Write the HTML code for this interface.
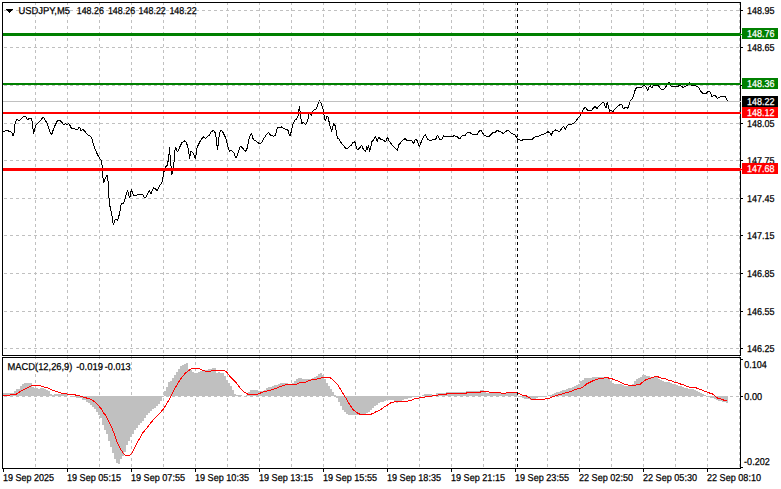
<!DOCTYPE html>
<html><head><meta charset="utf-8"><title>USDJPY,M5</title>
<style>html,body{margin:0;padding:0;background:#fff;}body{width:781px;height:489px;overflow:hidden;}svg{display:block;}text{font-family:"Liberation Sans",sans-serif;text-rendering:geometricPrecision;}</style>
</head><body>
<svg width="781" height="489" viewBox="0 0 781 489">
<rect x="0" y="0" width="781" height="489" fill="#fff"/>
<path d="M4 10.5H740 M4 47.5H740 M4 85.5H740 M4 123.5H740 M4 160.5H740 M4 198.5H740 M4 235.5H740 M4 273.5H740 M4 311.5H740 M4 348.5H740 M4 396.5H740" stroke="#c0c0c0" stroke-width="1" stroke-dasharray="3 3" fill="none" shape-rendering="crispEdges"/>
<path d="M35.5 2V355 M35.5 356V468 M67.5 2V355 M67.5 356V468 M99.5 2V355 M99.5 356V468 M131.5 2V355 M131.5 356V468 M163.5 2V355 M163.5 356V468 M195.5 2V355 M195.5 356V468 M227.5 2V355 M227.5 356V468 M259.5 2V355 M259.5 356V468 M291.5 2V355 M291.5 356V468 M323.5 2V355 M323.5 356V468 M355.5 2V355 M355.5 356V468 M387.5 2V355 M387.5 356V468 M419.5 2V355 M419.5 356V468 M451.5 2V355 M451.5 356V468 M483.5 2V355 M483.5 356V468 M515.5 2V355 M515.5 356V468 M547.5 2V355 M547.5 356V468 M579.5 2V355 M579.5 356V468 M611.5 2V355 M611.5 356V468 M643.5 2V355 M643.5 356V468 M675.5 2V355 M675.5 356V468 M707.5 2V355 M707.5 356V468 M739.5 2V355 M739.5 356V468" stroke="#c0c0c0" stroke-width="1" stroke-dasharray="3 3" fill="none" shape-rendering="crispEdges"/>
<polyline points="3.1,131.8 4.9,131.0 8.2,130.9 10.6,131.8 11.9,132.5 13.1,135.8 14.3,131.7 14.7,126.0 15.5,121.9 17.2,119.0 19.2,121.0 22.1,117.8 23.7,116.0 25.4,116.1 27.4,120.1 28.6,118.8 31.5,118.8 32.3,122.7 33.6,133.7 34.4,130.0 36.0,125.1 39.3,121.9 43.4,117.0 45.8,121.0 47.5,124.3 49.7,131.7 51.5,135.0 53.2,130.0 54.4,126.8 55.6,124.3 57.3,120.9 60.5,120.9 62.2,122.7 63.7,125.0 65.5,123.9 67.5,124.2 68.7,123.9 70.0,125.5 71.6,128.8 76.9,129.1 77.7,129.6 79.4,126.9 81.0,130.5 83.0,129.6 85.1,131.7 87.6,134.5 88.8,135.4 90.8,136.2 92.1,139.0 92.9,142.5 94.1,146.5 97.2,153.9 99.7,158.5 101.2,160.0 102.3,166.5 102.8,176.5 103.6,183.0 105.3,178.0 107.0,175.5 108.3,182.5 109.0,198.0 110.2,208.1 111.9,214.8 113.0,222.7 113.5,224.9 114.7,220.5 115.8,218.8 117.5,220.5 118.6,217.6 120.3,209.2 121.4,203.0 123.1,204.2 124.4,201.3 125.9,195.7 127.6,190.1 128.7,195.2 129.8,198.0 131.5,189.0 132.6,193.5 133.8,195.7 137.7,194.8 140.0,195.0 142.8,194.9 145.0,198.3 147.4,194.4 149.2,190.7 151.0,193.8 153.5,187.7 155.3,188.9 157.2,190.7 159.0,187.1 160.8,184.0 162.1,182.2 163.0,177.3 163.9,171.8 165.7,166.8 167.0,165.6 168.2,160.7 169.2,152.8 169.7,146.6 170.0,155.2 170.6,160.1 171.2,168.7 171.6,174.8 172.5,171.8 173.7,166.8 174.6,152.8 175.5,147.2 177.4,152.1 179.8,147.0 181.8,142.8 184.2,140.9 186.0,141.9 187.6,145.9 188.6,150.8 189.6,158.8 191.0,150.8 192.3,152.0 194.1,155.1 195.3,159.4 197.2,147.1 199.6,142.2 202.1,138.5 203.9,136.7 205.8,138.5 207.6,136.1 209.4,135.5 211.3,131.8 212.9,130.6 214.6,131.2 215.8,134.9 216.8,143.4 217.4,149.6 218.7,141.0 219.3,133.6 221.3,129.9 222.9,132.4 225.4,137.3 227.2,143.4 228.5,148.4 229.7,151.4 231.5,150.2 234.0,153.3 235.2,156.9 236.4,158.2 238.2,152.0 240.3,145.9 242.4,147.7 244.2,150.2 246.0,151.4 247.3,147.7 248.5,141.0 249.7,136.1 251.6,133.6 253.4,139.8 255.9,141.0 258.3,142.8 260.2,144.1 261.4,142.8 263.8,138.5 266.3,134.9 268.7,132.4 270.6,135.5 273.0,136.1 275.5,135.8 276.7,129.9 277.9,126.9 279.8,128.1 281.6,126.9 283.5,128.7 286.5,129.3 287.8,129.9 289.0,133.6 290.0,136.1 291.3,131.5 292.9,124.5 294.5,120.5 296.7,119.0 298.0,116.3 298.8,110.1 299.6,106.5 300.4,115.0 301.7,123.6 303.5,122.2 305.7,124.9 307.8,119.9 309.4,112.0 311.5,115.7 313.3,110.1 315.8,109.5 317.6,105.8 319.4,99.7 321.3,104.0 323.1,108.9 324.4,118.1 325.6,120.6 326.8,116.3 328.0,116.9 329.9,125.5 331.7,131.6 333.6,123.6 335.4,126.1 337.2,137.7 339.1,139.0 341.5,143.3 344.0,145.7 345.5,148.5 347.5,149.0 349.3,146.3 351.1,145.5 353.0,142.2 354.8,141.8 356.0,146.1 357.3,149.8 359.1,148.5 361.6,145.5 363.4,149.2 365.6,152.0 366.8,146.1 367.7,149.8 368.6,144.9 369.5,151.6 370.8,147.3 371.7,141.8 373.5,139.9 375.4,136.0 377.1,141.4 379.1,136.9 380.6,139.7 383.0,139.9 385.5,141.8 387.7,136.9 389.2,141.2 391.6,144.2 394.1,147.3 397.5,150.4 398.7,144.9 400.8,142.4 403.3,139.9 405.0,138.7 407.4,140.6 411.7,140.6 413.5,143.9 415.3,139.0 417.2,140.6 419.4,146.7 421.5,141.2 423.9,136.3 425.5,134.8 427.6,139.3 430.1,140.9 432.5,139.9 434.4,139.0 435.6,139.7 437.4,134.8 439.3,139.0 441.7,139.7 443.6,135.7 445.4,136.6 451.5,136.6 454.6,135.7 457.1,136.7 459.7,139.0 461.7,136.0 464.8,135.7 467.3,132.3 469.5,132.3 471.6,133.8 473.4,134.8 477.1,134.8 478.9,131.4 480.8,129.9 482.6,133.2 484.4,135.3 486.9,136.5 488.7,136.9 491.2,134.4 493.7,132.0 495.5,132.0 497.3,130.1 499.2,131.6 501.6,132.3 503.5,133.8 505.3,132.0 507.8,129.9 509.6,131.6 512.3,133.8 514.5,134.5 516.7,137.2 517.6,139.1 519.2,139.7 521.7,140.9 523.5,139.1 526.0,139.9 528.4,139.1 531.5,139.7 533.9,137.8 536.4,136.0 538.8,136.0 541.3,134.8 543.7,134.2 545.6,133.5 548.0,131.7 549.9,132.9 551.1,135.4 552.9,131.7 555.4,129.9 557.9,131.1 559.7,131.7 561.5,128.6 563.7,125.9 565.2,129.7 566.5,126.9 568.4,124.6 570.5,124.5 573.6,123.3 576.0,120.8 578.5,117.7 580.3,115.3 582.2,112.2 583.4,109.2 585.2,107.1 586.5,108.5 587.7,111.0 589.5,110.7 591.4,110.4 593.2,108.5 595.1,106.3 596.9,108.5 598.7,106.1 601.2,103.6 603.7,102.2 604.9,106.1 606.1,107.9 607.3,102.2 608.6,107.3 609.8,111.6 611.0,109.8 612.9,111.6 615.3,108.5 617.8,106.1 620.1,104.5 621.5,104.0 623.4,108.7 625.5,107.2 627.6,108.4 629.2,104.8 630.4,101.1 632.3,98.6 633.7,95.6 635.3,89.4 637.2,87.0 639.6,87.0 641.5,87.8 643.3,85.7 645.2,86.1 646.4,87.6 647.6,91.0 648.8,87.0 650.1,85.7 651.7,87.8 653.1,86.1 655.6,85.1 658.0,85.7 659.9,87.6 661.7,89.8 663.6,89.8 665.4,87.3 667.2,84.9 669.1,82.1 670.3,84.5 671.5,86.6 674.0,87.0 677.6,86.5 679.9,85.1 681.7,86.4 683.3,87.8 685.4,86.1 687.9,85.1 689.5,82.1 691.0,84.9 693.4,85.7 696.5,86.1 698.9,87.6 700.8,91.3 702.6,93.1 704.4,94.0 706.3,93.5 707.9,91.0 709.4,91.3 710.8,93.7 711.8,96.8 714.0,94.9 715.5,95.6 717.3,98.6 719.2,97.2 722.2,96.4 724.7,96.2 725.9,97.4 727.5,101.1" fill="none" stroke="#000" stroke-width="1" stroke-linejoin="bevel" shape-rendering="crispEdges"/>
<path d="M3 393h1v3h-1zM4 393h2v3h-2zM6 393h2v3h-2zM8 393h2v3h-2zM10 393h2v3h-2zM12 393h2v3h-2zM14 391h2v5h-2zM16 389h2v7h-2zM18 389h2v7h-2zM20 386h2v10h-2zM22 384h2v12h-2zM24 383h2v13h-2zM26 383h2v13h-2zM28 383h2v13h-2zM30 383h2v13h-2zM32 387h2v9h-2zM34 388h2v8h-2zM36 388h2v8h-2zM38 389h2v7h-2zM40 388h2v8h-2zM42 388h2v8h-2zM44 389h2v7h-2zM46 390h2v6h-2zM48 391h2v5h-2zM50 394h2v2h-2zM52 395h2v1h-2zM54 394h2v2h-2zM56 394h2v2h-2zM58 394h2v2h-2zM60 394h2v2h-2zM62 394h2v2h-2zM64 394h2v2h-2zM66 394h2v2h-2zM70 396h2v1h-2zM72 396h2v1h-2zM74 396h2v1h-2zM76 396h2v2h-2zM78 396h2v2h-2zM80 396h2v2h-2zM82 396h2v4h-2zM84 396h2v4h-2zM86 396h2v6h-2zM88 396h2v7h-2zM90 396h2v9h-2zM92 396h2v11h-2zM94 396h2v13h-2zM96 396h2v16h-2zM98 396h2v19h-2zM100 396h2v22h-2zM102 396h2v29h-2zM104 396h2v34h-2zM106 396h2v38h-2zM108 396h2v45h-2zM110 396h2v51h-2zM112 396h2v57h-2zM114 396h2v63h-2zM116 396h2v67h-2zM118 396h2v68h-2zM120 396h2v63h-2zM122 396h2v60h-2zM124 396h2v56h-2zM126 396h2v49h-2zM128 396h2v45h-2zM130 396h2v41h-2zM132 396h2v38h-2zM134 396h2v34h-2zM136 396h2v32h-2zM138 396h2v29h-2zM140 396h2v27h-2zM142 396h2v25h-2zM144 396h2v22h-2zM146 396h2v19h-2zM148 396h2v17h-2zM150 396h2v15h-2zM152 396h2v13h-2zM154 396h2v12h-2zM156 396h2v10h-2zM158 396h2v8h-2zM160 396h2v5h-2zM162 396h2v1h-2zM164 391h2v5h-2zM166 387h2v9h-2zM168 382h2v14h-2zM170 381h2v15h-2zM172 378h2v18h-2zM174 375h2v21h-2zM176 372h2v24h-2zM178 369h2v27h-2zM180 366h2v30h-2zM182 365h2v31h-2zM184 364h2v32h-2zM186 363h2v33h-2zM188 369h2v27h-2zM190 370h2v26h-2zM192 372h2v24h-2zM194 373h2v23h-2zM196 373h2v23h-2zM198 372h2v24h-2zM200 371h2v25h-2zM202 370h2v26h-2zM204 370h2v26h-2zM206 370h2v26h-2zM208 369h2v27h-2zM210 369h2v27h-2zM212 368h2v28h-2zM214 368h2v28h-2zM216 373h2v23h-2zM218 372h2v24h-2zM220 373h2v23h-2zM222 373h2v23h-2zM224 376h2v20h-2zM226 380h2v16h-2zM228 383h2v13h-2zM230 386h2v10h-2zM232 390h2v6h-2zM234 394h2v2h-2zM236 395h2v1h-2zM238 395h2v1h-2zM240 395h2v1h-2zM244 396h2v1h-2zM246 395h2v1h-2zM248 392h2v4h-2zM250 390h2v6h-2zM252 390h2v6h-2zM254 390h2v6h-2zM256 390h2v6h-2zM258 391h2v5h-2zM260 391h2v5h-2zM262 391h2v5h-2zM264 390h2v6h-2zM266 388h2v8h-2zM268 387h2v9h-2zM270 387h2v9h-2zM272 386h2v10h-2zM274 385h2v11h-2zM276 385h2v11h-2zM278 384h2v12h-2zM280 383h2v13h-2zM282 383h2v13h-2zM284 383h2v13h-2zM286 383h2v13h-2zM288 384h2v12h-2zM290 385h2v11h-2zM292 383h2v13h-2zM294 381h2v15h-2zM296 379h2v17h-2zM298 378h2v18h-2zM300 378h2v18h-2zM302 379h2v17h-2zM304 379h2v17h-2zM306 379h2v17h-2zM308 379h2v17h-2zM310 379h2v17h-2zM312 378h2v18h-2zM314 377h2v19h-2zM316 376h2v20h-2zM318 374h2v22h-2zM320 373h2v23h-2zM322 375h2v21h-2zM324 379h2v17h-2zM326 383h2v13h-2zM328 386h2v10h-2zM330 389h2v7h-2zM332 392h2v4h-2zM334 395h2v1h-2zM336 396h2v2h-2zM338 396h2v6h-2zM340 396h2v10h-2zM342 396h2v14h-2zM344 396h2v16h-2zM346 396h2v18h-2zM348 396h2v19h-2zM350 396h2v19h-2zM352 396h2v19h-2zM354 396h2v19h-2zM356 396h2v19h-2zM358 396h2v19h-2zM360 396h2v18h-2zM362 396h2v18h-2zM364 396h2v18h-2zM366 396h2v17h-2zM368 396h2v16h-2zM370 396h2v14h-2zM372 396h2v12h-2zM374 396h2v10h-2zM376 396h2v9h-2zM378 396h2v7h-2zM380 396h2v6h-2zM382 396h2v6h-2zM384 396h2v5h-2zM386 396h2v4h-2zM388 396h2v4h-2zM390 396h2v4h-2zM392 396h2v4h-2zM394 396h2v6h-2zM396 396h2v7h-2zM398 396h2v6h-2zM400 396h2v5h-2zM402 396h2v4h-2zM404 396h2v3h-2zM406 396h2v3h-2zM408 396h2v2h-2zM410 396h2v2h-2zM412 396h2v1h-2zM414 396h2v1h-2zM416 396h2v1h-2zM418 396h2v1h-2zM422 395h2v1h-2zM424 394h2v2h-2zM426 394h2v2h-2zM428 394h2v2h-2zM430 394h2v2h-2zM432 395h2v1h-2zM434 395h2v1h-2zM436 393h2v3h-2zM438 393h2v3h-2zM440 393h2v3h-2zM442 393h2v3h-2zM444 393h2v3h-2zM446 392h2v4h-2zM448 392h2v4h-2zM450 392h2v4h-2zM452 392h2v4h-2zM454 392h2v4h-2zM456 392h2v4h-2zM458 392h2v4h-2zM460 392h2v4h-2zM462 392h2v4h-2zM464 392h2v4h-2zM466 391h2v5h-2zM468 391h2v5h-2zM470 391h2v5h-2zM472 391h2v5h-2zM474 391h2v5h-2zM476 391h2v5h-2zM478 391h2v5h-2zM480 390h2v6h-2zM482 390h2v6h-2zM484 392h2v4h-2zM486 393h2v3h-2zM488 393h2v3h-2zM490 393h2v3h-2zM492 393h2v3h-2zM494 393h2v3h-2zM496 393h2v3h-2zM498 393h2v3h-2zM500 393h2v3h-2zM502 393h2v3h-2zM504 393h2v3h-2zM506 393h2v3h-2zM508 393h2v3h-2zM510 393h2v3h-2zM512 393h2v3h-2zM514 393h2v3h-2zM516 393h2v3h-2zM518 396h2v1h-2zM520 396h2v1h-2zM522 396h2v2h-2zM524 396h2v3h-2zM526 396h2v3h-2zM528 396h2v3h-2zM530 396h2v4h-2zM532 396h2v4h-2zM534 396h2v3h-2zM536 396h2v2h-2zM538 396h2v1h-2zM540 396h2v1h-2zM542 396h2v1h-2zM544 396h2v1h-2zM548 395h2v1h-2zM550 395h2v1h-2zM552 394h2v2h-2zM554 393h2v3h-2zM556 392h2v4h-2zM558 392h2v4h-2zM560 391h2v5h-2zM562 390h2v6h-2zM564 390h2v6h-2zM566 389h2v7h-2zM568 388h2v8h-2zM570 388h2v8h-2zM572 387h2v9h-2zM574 386h2v10h-2zM576 385h2v11h-2zM578 384h2v12h-2zM580 381h2v15h-2zM582 380h2v16h-2zM584 378h2v18h-2zM586 378h2v18h-2zM588 378h2v18h-2zM590 378h2v18h-2zM592 377h2v19h-2zM594 377h2v19h-2zM596 377h2v19h-2zM598 377h2v19h-2zM600 377h2v19h-2zM602 377h2v19h-2zM604 377h2v19h-2zM606 378h2v18h-2zM608 379h2v17h-2zM610 381h2v15h-2zM612 383h2v13h-2zM614 384h2v12h-2zM616 384h2v12h-2zM618 384h2v12h-2zM620 384h2v12h-2zM622 385h2v11h-2zM624 386h2v10h-2zM626 386h2v10h-2zM628 386h2v10h-2zM630 385h2v11h-2zM632 384h2v12h-2zM634 381h2v15h-2zM636 379h2v17h-2zM638 378h2v18h-2zM640 377h2v19h-2zM642 375h2v21h-2zM644 375h2v21h-2zM646 376h2v20h-2zM648 376h2v20h-2zM650 377h2v19h-2zM652 377h2v19h-2zM654 377h2v19h-2zM656 377h2v19h-2zM658 379h2v17h-2zM660 380h2v16h-2zM662 381h2v15h-2zM664 382h2v14h-2zM666 382h2v14h-2zM668 382h2v14h-2zM670 383h2v13h-2zM672 384h2v12h-2zM674 384h2v12h-2zM676 385h2v11h-2zM678 386h2v10h-2zM680 386h2v10h-2zM682 387h2v9h-2zM684 388h2v8h-2zM686 388h2v8h-2zM688 389h2v7h-2zM690 389h2v7h-2zM692 389h2v7h-2zM694 390h2v6h-2zM696 391h2v5h-2zM698 392h2v4h-2zM700 393h2v3h-2zM702 394h2v2h-2zM704 395h2v1h-2zM708 396h2v1h-2zM710 396h2v2h-2zM712 396h2v2h-2zM714 396h2v3h-2zM716 396h2v4h-2zM718 396h2v5h-2zM720 396h2v5h-2zM722 396h2v6h-2zM724 396h2v6h-2zM726 396h2v7h-2z" fill="#c0c0c0" shape-rendering="crispEdges"/>
<polyline points="3.1,395.9 10.2,395.0 15.3,394.8 20.4,391.5 25.6,388.9 31.7,385.8 40.4,385.8 44.0,386.9 48.0,387.9 52.1,389.9 56.2,391.5 59.9,392.8 67.3,394.0 73.4,394.6 79.5,395.8 84.4,397.4 90.6,399.2 94.3,401.4 97.9,405.0 100.0,407.4 101.6,409.3 103.9,413.2 105.3,414.9 107.7,419.7 109.0,422.2 111.6,427.4 114.8,435.1 117.4,442.8 120.6,449.3 123.8,453.8 125.7,455.7 129.6,455.7 132.8,451.8 136.0,445.4 138.6,440.2 142.5,433.2 146.3,428.7 150.2,423.5 154.1,419.0 158.8,414.3 163.2,409.3 166.4,404.2 170.2,397.8 174.0,390.2 177.8,383.2 181.6,377.5 185.5,373.1 188.6,370.6 191.8,368.7 199.4,368.7 202.6,370.2 205.8,371.4 210.8,371.2 212.0,370.7 224.3,370.7 226.9,372.3 230.4,376.9 234.5,380.9 237.6,384.5 240.7,388.6 243.7,391.7 246.3,393.4 248.9,394.8 255.0,394.8 259.1,393.7 262.1,392.2 266.2,391.2 270.1,390.2 275.2,388.6 280.3,386.6 286.5,384.5 291.6,385.0 295.7,384.5 299.8,382.8 305.9,382.0 311.0,379.9 316.1,379.4 321.2,377.9 322.5,377.8 330.4,377.8 334.7,381.5 338.4,385.7 342.1,391.9 345.8,398.0 349.4,404.2 353.1,409.7 356.8,412.7 361.1,414.8 369.1,414.8 372.8,413.6 376.4,411.5 379.1,410.8 383.2,407.7 387.3,405.2 391.9,402.1 397.5,401.9 403.6,401.6 411.3,400.5 414.4,399.0 418.0,398.2 423.1,397.5 426.1,396.8 431.2,396.8 432.5,395.8 438.2,395.0 446.0,394.7 446.4,393.9 466.0,393.9 466.4,392.8 479.9,392.8 480.3,391.9 488.9,391.9 489.1,392.8 501.0,392.8 501.8,393.9 505.4,393.9 506.3,392.8 517.3,392.8 517.7,393.7 520.6,394.1 521.4,395.0 525.1,395.1 527.5,396.8 530.0,398.0 531.6,399.2 534.9,399.6 543.9,399.6 545.0,398.8 548.2,398.6 550.6,397.8 553.9,396.2 558.0,395.1 562.1,394.0 565.3,392.9 569.4,391.8 572.7,390.8 576.0,389.2 580.1,388.4 583.3,386.8 586.6,383.9 589.9,382.3 594.0,380.2 598.1,379.0 603.2,378.7 604.0,377.8 608.1,377.8 609.3,378.7 612.6,379.0 613.8,379.8 616.7,380.2 618.7,381.4 621.2,382.7 623.2,383.9 627.3,384.3 629.3,385.8 635.1,385.8 636.3,385.0 639.6,384.7 642.4,382.3 645.7,379.8 649.8,378.2 653.1,377.8 654.5,376.9 658.2,376.9 659.4,377.8 662.3,378.2 663.5,378.7 666.4,379.0 668.0,380.1 672.1,381.0 674.5,382.3 678.6,383.1 681.1,384.3 684.3,385.1 687.6,386.6 691.7,387.7 696.6,388.0 697.4,388.8 700.7,389.2 703.1,390.8 707.3,392.0 710.0,393.2 713.5,394.3 716.9,397.8 720.8,399.0 723.8,400.1 726.9,401.1" fill="none" stroke="#ff0000" stroke-width="1" shape-rendering="crispEdges"/>
<path d="M517.5 2V355M517.5 356V468" stroke="#000" stroke-width="1" stroke-dasharray="3 3" fill="none" shape-rendering="crispEdges"/>
<path d="M2.5 2.5H740.5V355.5H2.5Z M2.5 357.5H740.5V468.5H2.5Z" stroke="#000" stroke-width="1" fill="none" shape-rendering="crispEdges"/>
<rect x="3" y="101" width="738" height="1" fill="#c0c0c0"/>
<rect x="3" y="33" width="738" height="3" fill="#008000"/><rect x="741" y="34" width="1" height="1" fill="#008000"/>
<rect x="3" y="83" width="738" height="2" fill="#008000"/>
<rect x="3" y="112" width="738" height="2" fill="#ff0000"/>
<rect x="3" y="168" width="738" height="3" fill="#ff0000"/><rect x="741" y="169" width="1" height="1" fill="#ff0000"/>
<path d="M741 10.5H743 M741 47.5H743 M741 85.5H743 M741 123.5H743 M741 160.5H743 M741 198.5H743 M741 235.5H743 M741 273.5H743 M741 311.5H743 M741 348.5H743 M741 359.5H743 M741 396.5H743 M741 467.5H743 M3.5 469V472 M67.5 469V472 M131.5 469V472 M195.5 469V472 M259.5 469V472 M323.5 469V472 M387.5 469V472 M451.5 469V472 M515.5 469V472 M579.5 469V472 M643.5 469V472 M707.5 469V472" stroke="#000" stroke-width="1" fill="none" shape-rendering="crispEdges"/>
<text transform="translate(747 14) scale(1 1.0)" font-size="10" fill="#000" stroke="#000" stroke-width="0.25" textLength="27.5" lengthAdjust="spacingAndGlyphs">148.95</text>
<text transform="translate(747 51) scale(1 1.0)" font-size="10" fill="#000" stroke="#000" stroke-width="0.25" textLength="27.5" lengthAdjust="spacingAndGlyphs">148.65</text>
<text transform="translate(747 127) scale(1 1.0)" font-size="10" fill="#000" stroke="#000" stroke-width="0.25" textLength="27.5" lengthAdjust="spacingAndGlyphs">148.05</text>
<text transform="translate(747 164) scale(1 1.0)" font-size="10" fill="#000" stroke="#000" stroke-width="0.25" textLength="27.5" lengthAdjust="spacingAndGlyphs">147.75</text>
<text transform="translate(747 202) scale(1 1.0)" font-size="10" fill="#000" stroke="#000" stroke-width="0.25" textLength="27.5" lengthAdjust="spacingAndGlyphs">147.45</text>
<text transform="translate(747 239) scale(1 1.0)" font-size="10" fill="#000" stroke="#000" stroke-width="0.25" textLength="27.5" lengthAdjust="spacingAndGlyphs">147.15</text>
<text transform="translate(747 277) scale(1 1.0)" font-size="10" fill="#000" stroke="#000" stroke-width="0.25" textLength="27.5" lengthAdjust="spacingAndGlyphs">146.85</text>
<text transform="translate(747 315) scale(1 1.0)" font-size="10" fill="#000" stroke="#000" stroke-width="0.25" textLength="27.5" lengthAdjust="spacingAndGlyphs">146.55</text>
<text transform="translate(747 352) scale(1 1.0)" font-size="10" fill="#000" stroke="#000" stroke-width="0.25" textLength="27.5" lengthAdjust="spacingAndGlyphs">146.25</text>
<rect x="742" y="28" width="36" height="11" fill="#008000"/>
<text transform="translate(747 37) scale(1 1.0)" font-size="10" fill="#fff" stroke="#fff" stroke-width="0.25" textLength="27.5" lengthAdjust="spacingAndGlyphs">148.76</text>
<rect x="742" y="78" width="36" height="11" fill="#008000"/>
<text transform="translate(747 87) scale(1 1.0)" font-size="10" fill="#fff" stroke="#fff" stroke-width="0.25" textLength="27.5" lengthAdjust="spacingAndGlyphs">148.36</text>
<rect x="742" y="96" width="36" height="11" fill="#000000"/>
<text transform="translate(747 105) scale(1 1.0)" font-size="10" fill="#fff" stroke="#fff" stroke-width="0.25" textLength="27.5" lengthAdjust="spacingAndGlyphs">148.22</text>
<rect x="742" y="107" width="36" height="11" fill="#ff0000"/>
<text transform="translate(747 116) scale(1 1.0)" font-size="10" fill="#fff" stroke="#fff" stroke-width="0.25" textLength="27.5" lengthAdjust="spacingAndGlyphs">148.12</text>
<rect x="742" y="163" width="36" height="11" fill="#ff0000"/>
<text transform="translate(747 172) scale(1 1.0)" font-size="10" fill="#fff" stroke="#fff" stroke-width="0.25" textLength="27.5" lengthAdjust="spacingAndGlyphs">147.68</text>
<path d="M6 9h7v1h-7zM7 10h5v1h-5zM8 11h3v1h-3zM9 12h1v1h-1z" fill="#000" shape-rendering="crispEdges"/>
<text transform="translate(18.5 14) scale(1 1.0)" font-size="10" fill="#000" stroke="#000" stroke-width="0.25" textLength="51.5" lengthAdjust="spacingAndGlyphs">USDJPY,M5</text>
<text transform="translate(76.7 14) scale(1 1.0)" font-size="10" fill="#000" stroke="#000" stroke-width="0.25" textLength="27.2" lengthAdjust="spacingAndGlyphs">148.26</text>
<text transform="translate(107.9 14) scale(1 1.0)" font-size="10" fill="#000" stroke="#000" stroke-width="0.25" textLength="27.2" lengthAdjust="spacingAndGlyphs">148.26</text>
<text transform="translate(138.6 14) scale(1 1.0)" font-size="10" fill="#000" stroke="#000" stroke-width="0.25" textLength="27.2" lengthAdjust="spacingAndGlyphs">148.22</text>
<text transform="translate(169.4 14) scale(1 1.0)" font-size="10" fill="#000" stroke="#000" stroke-width="0.25" textLength="27.2" lengthAdjust="spacingAndGlyphs">148.22</text>
<text transform="translate(7.6 370) scale(1 1.0)" font-size="10" fill="#000" stroke="#000" stroke-width="0.25" textLength="64.8" lengthAdjust="spacingAndGlyphs">MACD(12,26,9)</text>
<text transform="translate(76.2 370) scale(1 1.0)" font-size="10" fill="#000" stroke="#000" stroke-width="0.25" textLength="26.8" lengthAdjust="spacingAndGlyphs">-0.019</text>
<text transform="translate(104.8 370) scale(1 1.0)" font-size="10" fill="#000" stroke="#000" stroke-width="0.25" textLength="25.8" lengthAdjust="spacingAndGlyphs">-0.013</text>
<text transform="translate(744.3 368) scale(1 1.0)" font-size="10" fill="#000" stroke="#000" stroke-width="0.25" textLength="22.6" lengthAdjust="spacingAndGlyphs">0.104</text>
<text transform="translate(744.3 400) scale(1 1.0)" font-size="10" fill="#000" stroke="#000" stroke-width="0.25" textLength="17.8" lengthAdjust="spacingAndGlyphs">0.00</text>
<text transform="translate(744.1 465) scale(1 1.0)" font-size="10" fill="#000" stroke="#000" stroke-width="0.25" textLength="25.6" lengthAdjust="spacingAndGlyphs">-0.202</text>
<text transform="translate(3 481) scale(1 1.0)" font-size="10" fill="#000" stroke="#000" stroke-width="0.25" textLength="51" lengthAdjust="spacingAndGlyphs">19 Sep 2025</text>
<text transform="translate(67 481) scale(1 1.0)" font-size="10" fill="#000" stroke="#000" stroke-width="0.25" textLength="54" lengthAdjust="spacingAndGlyphs">19 Sep 05:15</text>
<text transform="translate(131 481) scale(1 1.0)" font-size="10" fill="#000" stroke="#000" stroke-width="0.25" textLength="54" lengthAdjust="spacingAndGlyphs">19 Sep 07:55</text>
<text transform="translate(195 481) scale(1 1.0)" font-size="10" fill="#000" stroke="#000" stroke-width="0.25" textLength="54" lengthAdjust="spacingAndGlyphs">19 Sep 10:35</text>
<text transform="translate(259 481) scale(1 1.0)" font-size="10" fill="#000" stroke="#000" stroke-width="0.25" textLength="54" lengthAdjust="spacingAndGlyphs">19 Sep 13:15</text>
<text transform="translate(323 481) scale(1 1.0)" font-size="10" fill="#000" stroke="#000" stroke-width="0.25" textLength="54" lengthAdjust="spacingAndGlyphs">19 Sep 15:55</text>
<text transform="translate(387 481) scale(1 1.0)" font-size="10" fill="#000" stroke="#000" stroke-width="0.25" textLength="54" lengthAdjust="spacingAndGlyphs">19 Sep 18:35</text>
<text transform="translate(451 481) scale(1 1.0)" font-size="10" fill="#000" stroke="#000" stroke-width="0.25" textLength="54" lengthAdjust="spacingAndGlyphs">19 Sep 21:15</text>
<text transform="translate(515 481) scale(1 1.0)" font-size="10" fill="#000" stroke="#000" stroke-width="0.25" textLength="54" lengthAdjust="spacingAndGlyphs">19 Sep 23:55</text>
<text transform="translate(579 481) scale(1 1.0)" font-size="10" fill="#000" stroke="#000" stroke-width="0.25" textLength="54" lengthAdjust="spacingAndGlyphs">22 Sep 02:50</text>
<text transform="translate(643 481) scale(1 1.0)" font-size="10" fill="#000" stroke="#000" stroke-width="0.25" textLength="54" lengthAdjust="spacingAndGlyphs">22 Sep 05:30</text>
<text transform="translate(707 481) scale(1 1.0)" font-size="10" fill="#000" stroke="#000" stroke-width="0.25" textLength="54" lengthAdjust="spacingAndGlyphs">22 Sep 08:10</text>
</svg>
</body></html>
